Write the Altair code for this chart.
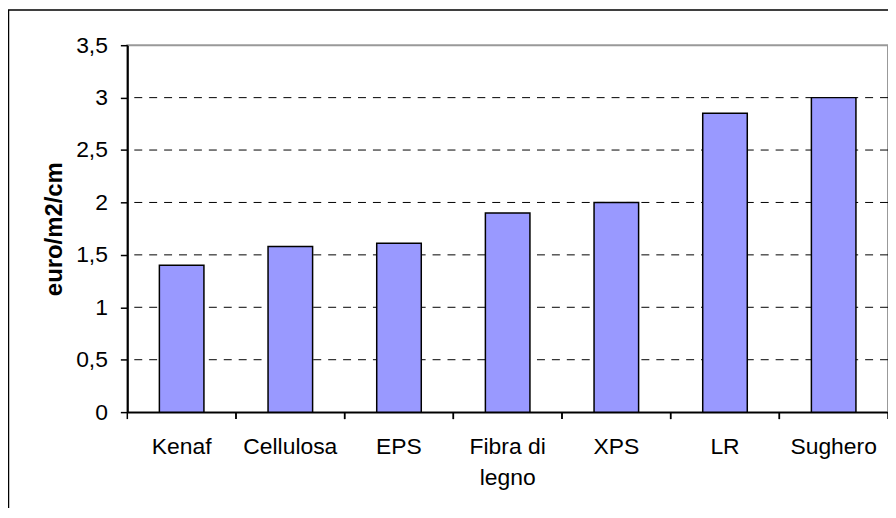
import altair as alt
import pandas as pd

categories = ["Kenaf", "Cellulosa", "EPS", "Fibra di legno", "XPS", "LR", "Sughero"]
values = [1.40, 1.58, 1.61, 1.90, 2.00, 2.85, 3.00]
y_ticks = [0, 0.5, 1, 1.5, 2, 2.5, 3, 3.5]
grid_values = [0.5, 1, 1.5, 2, 2.5, 3]

df = pd.DataFrame({"materiale": categories, "costo": values})
grid_df = pd.DataFrame({"g": grid_values})
frame_df = pd.DataFrame({"a": [0]})

W, H = 765, 369
FONT = "Liberation Sans"

xscale = alt.Scale(domain=categories, paddingInner=0.59, paddingOuter=0.295)
tickscale = alt.Scale(domain=categories, paddingInner=0, paddingOuter=0)
yscale = alt.Scale(domain=[0, 3.5], nice=False, zero=True)

yaxis = alt.Axis(
    title="euro/m2/cm",
    values=y_ticks,
    labelExpr="replace(toString(datum.value), '.', ',')",
    grid=False,
    ticks=True,
    labelFontSize=23,
    labelPadding=13,
    tickSize=7,
    labelColor="black",
    domainColor="black",
    tickColor="black",
    domainWidth=2,
    tickWidth=1.5,
    labelFont=FONT,
    titleFont=FONT,
    titleFontSize=24,
    titleFontWeight="bold",
    titleColor="black",
    titlePadding=9,
)

grid = alt.Chart(grid_df).mark_rule(color="black", strokeDash=[8, 7], strokeWidth=1).encode(
    y=alt.Y("g:Q", scale=yscale, axis=yaxis, title="euro/m2/cm")
)

bars = alt.Chart(df).mark_bar(fill="#9999FF", stroke="black", strokeWidth=1.5).encode(
    x=alt.X(
        "materiale:N",
        scale=xscale,
        sort=categories,
        axis=alt.Axis(
            title=None,
            labelAngle=0,
            ticks=False,
            labelExpr="datum.value == 'Fibra di legno' ? ['Fibra di', 'legno'] : datum.value",
            labelFontSize=23,
            labelLineHeight=31,
            labelPadding=24,
            labelColor="black",
            domainColor="black",
            domainWidth=2,
            labelFont=FONT,
        ),
    ),
    y=alt.Y("costo:Q", scale=yscale, axis=yaxis, title="euro/m2/cm"),
)

ticks_left = alt.Chart(df).mark_rule(color="black", strokeWidth=1.5).encode(
    x=alt.X("materiale:N", scale=tickscale, sort=categories, bandPosition=0, axis=None),
    y=alt.value(H),
    y2=alt.value(H + 7),
)
ticks_right = alt.Chart(df).mark_rule(color="black", strokeWidth=1.5).encode(
    x=alt.X("materiale:N", scale=tickscale, sort=categories, bandPosition=1, axis=None),
    y=alt.value(H),
    y2=alt.value(H + 7),
)
tick_layer = alt.layer(ticks_left, ticks_right)

frame = alt.Chart(frame_df).mark_rect(fill="transparent", stroke="black", strokeWidth=1.5).encode(
    x=alt.value(-119.5), x2=alt.value(900), y=alt.value(-35.5), y2=alt.value(600)
)

chart = (
    alt.layer(grid, bars, frame, tick_layer)
    .resolve_scale(x="independent")
    .properties(
        width=W,
        height=H,
        autosize=alt.AutoSizeParams(type="none"),
        padding={"left": 120, "top": 36, "right": 0, "bottom": 95},
        background="white",
    )
    .configure_view(stroke="#999999", strokeWidth=2)
)

chart.save("out.html", embed_options={"renderer": "svg", "actions": False})
